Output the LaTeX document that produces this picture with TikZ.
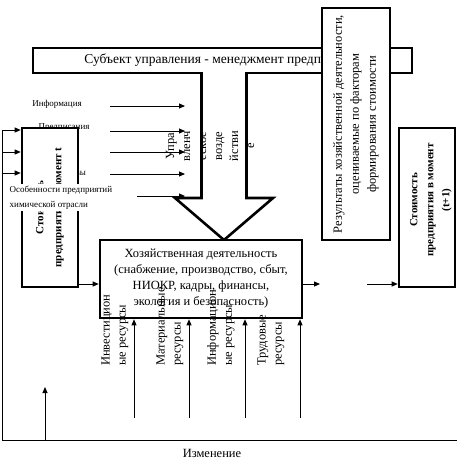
\documentclass[tikz,border=0pt]{standalone}
\usepackage{fontspec}
\setmainfont{Liberation Serif}
\usetikzlibrary{arrows.meta}
\definecolor{hdInk}{HTML}{000000}
\tikzset{
  hd box/.style={draw=hdInk, fill=white, line width=2.6pt, inner sep=0pt},
  hd flow/.style={draw=hdInk, line width=0.9pt, -{Triangle[length=6pt,width=5pt]}},
  hd line/.style={draw=hdInk, line width=0.9pt},
  hd big arrow/.style={draw=hdInk, fill=white, line width=2.6pt, line join=miter},
  hd label/.style={font=\fontsize{12.5}{16}\selectfont, text=hdInk, inner sep=0pt},
  hd small/.style={font=\fontsize{9}{15}\selectfont, text=hdInk, inner sep=0pt},
  hd bold/.style={font=\fontsize{11}{16}\selectfont\bfseries, text=hdInk, inner sep=0pt},
}

\begin{document}
\begin{tikzpicture}[x=1pt,y=-1pt]
  \useasboundingbox (0,0) rectangle (457,463);

  % управляющие входы
  \node[hd small] (info) at (57,104) {Информация};
  \node[hd small] (presc) at (64,128) {Предписания};
  \node[hd small,anchor=east] (norm) at (86,174) {Нормативы};
  \foreach \y/\s in {106/110,131/110,152/110,174/110,196/137} {
    \coordinate (cin\y) at (\s,\y);
    \coordinate (cout\y) at (185,\y);
    \draw[hd flow] (cin\y) -- (cout\y);
  }

  % обратная связь "Изменение"
  \coordinate (fbR) at (457,440);
  \coordinate (fbL) at (2,440);
  \coordinate (fbT) at (2,130);
  \draw[hd line] (fbR) -- (fbL) -- (fbT);
  \node[hd label] (chg) at (212,453) {Изменение};
  \coordinate (upS) at (45,440);
  \coordinate (upE) at (45,387);
  \draw[hd flow] (upS) -- (upE);

  % стоимость в момент t
  \node[hd box,hd bold,rotate=90,align=center,minimum width=159pt,minimum height=56pt]
    (vt) at (50,207.5) {Стоимость\\[2pt]предприятия в момент t};
  \foreach \y in {130,152,173} {
    \coordinate (fb\y) at (2,\y);
    \draw[hd flow] (fb\y) -- (vt.north |- fb\y);
  }
  \node[hd small,fill=white,align=left,anchor=north west,inner sep=1.5pt]
    (chem) at (8,184) {Особенности предприятий\\химической отрасли};

  % субъект управления
  \node[hd box,hd label,font=\fontsize{13.5}{16}\selectfont,minimum width=379pt,minimum height=25pt]
    (subj) at (222.5,60.5) {Субъект управления - менеджмент предприятия};

  % управляющее воздействие
  \path[hd big arrow] (201.5,72) -- (201.5,198) -- (175,198) -- (224,240)
    -- (273,198) -- (246.5,198) -- (246.5,72);
  \node[hd label,rotate=90,align=center] (ctl) at (210,146)
    {Упра\\вленч\\еское\\возде\\йстви\\е};

  % результаты
  \node[hd box,hd label,rotate=90,align=center,minimum width=232pt,minimum height=68pt]
    (res) at (356,124) {Результаты хозяйственной деятельности,\\[1pt]оцениваемые по факторам\\[1pt]формирования стоимости};

  % стоимость в момент t+1
  \node[hd box,hd bold,rotate=90,align=center,minimum width=159pt,minimum height=56pt]
    (vt1) at (427,207.5) {};
  \node[hd bold,rotate=90,align=center] (vt1t) at (431,200)
    {Стоимость\\предприятия в момент\\(t+1)};

  % хозяйственная деятельность
  \node[hd box,hd label,align=center,minimum width=202pt,minimum height=78pt]
    (act) at (201,279) {Хозяйственная деятельность\\(снабжение, производство, сбыт,\\НИОКР, кадры, финансы,\\экология и безопасность)};

  \coordinate (lvl) at (0,284);
  \coordinate (outA) at (320,284);
  \coordinate (outB) at (367,284);
  \draw[hd flow] (vt.south |- lvl) -- (act.west |- lvl);
  \draw[hd flow] (act.east |- lvl) -- (outA);
  \draw[hd flow] (outB) -- (vt1.north |- lvl);

  % ресурсы
  \foreach \x/\c/\t in {134/115/{Инвестицион\\ые ресурсы},189/170/{Материальные\\ресурсы},
                        245/221/{Информацион\\ые ресурсы},300/271/{Трудовые\\ресурсы}} {
    \coordinate (rs\x) at (\x,418);
    \draw[hd flow] (rs\x) -- (act.south -| rs\x);
    \node[hd label,rotate=90,align=left,anchor=west] at (\c,366) {\t};
  }
\end{tikzpicture}
\end{document}
